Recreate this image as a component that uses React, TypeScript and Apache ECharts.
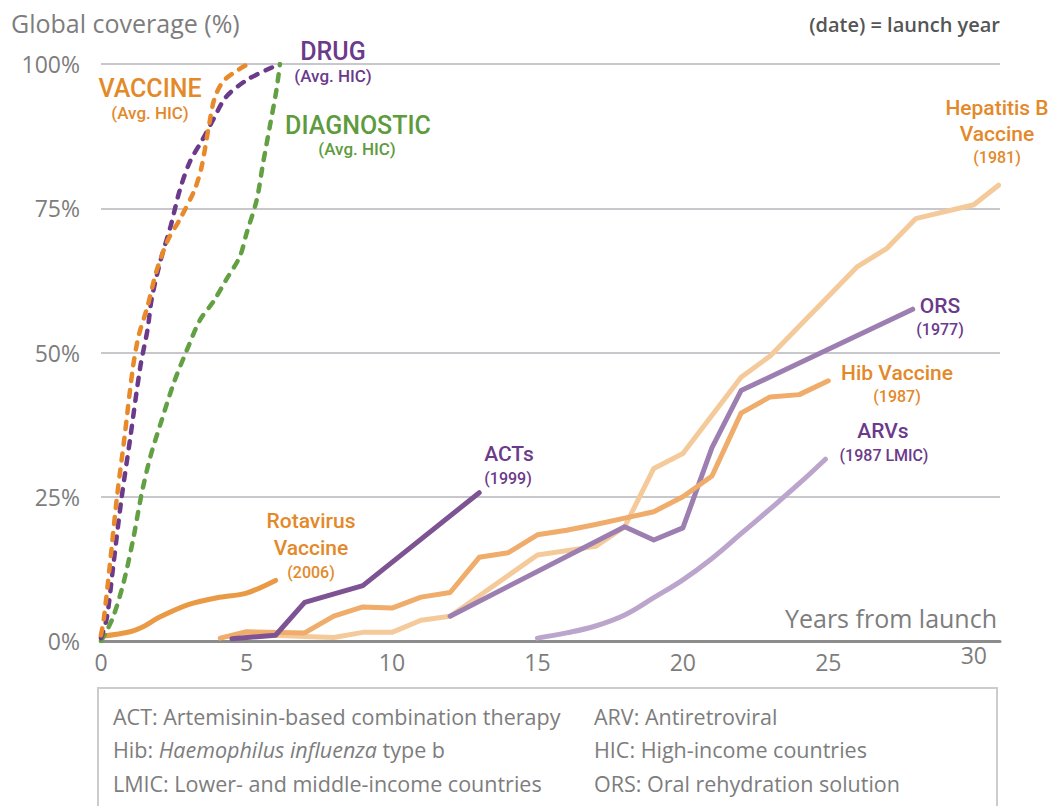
import React, { useEffect, useRef } from "react";
import * as echarts from "echarts";

// ---- Data (x = years from launch, y = global coverage %) ----
const xTicks = [0, 5, 10, 15, 20, 25, 30];
const yTicks = [0, 25, 50, 75, 100];

const vaccineAvgHIC: [number, number][] = [
  [0, 1], [0.1, 4], [0.3, 13], [0.55, 25], [0.8, 35], [1.1, 47.5], [1.3, 53], [1.6, 58],
  [1.9, 64], [2.3, 69.5], [2.7, 73], [3.2, 78], [3.45, 82], [3.7, 89], [3.9, 94],
  [4.2, 97], [4.66, 98.8], [5.05, 100],
];
const drugAvgHIC: [number, number][] = [
  [0, 0.5], [0.2, 4], [0.42, 13], [0.7, 24.5], [1.0, 35], [1.35, 47.5], [1.6, 54], [1.75, 59.5],
  [2.05, 66], [2.4, 72], [2.7, 78], [3.05, 83], [3.5, 87], [3.85, 90.3], [4.3, 94.3],
  [5.0, 97.2], [5.7, 99], [6.15, 100],
];
const diagnosticAvgHIC: [number, number][] = [
  [0, 0], [0.15, 1.3], [0.42, 4.2], [0.77, 10], [1.1, 17.5], [1.4, 25.6], [1.7, 32], [2.05, 37.7],
  [2.5, 44.7], [2.95, 50.4], [3.4, 55.6], [3.86, 58.8], [4.3, 62.6], [4.77, 66.6], [5.0, 70.6],
  [5.35, 76.4], [5.57, 82.8], [5.8, 89.1], [6.03, 95.5], [6.15, 100],
];
const rotavirus2006: [number, number][] = [
  [0, 0.8], [1, 1.6], [1.5, 2.6], [2, 4.1], [3, 6.3], [4, 7.5], [5, 8.3], [6, 10.5],
];
const acts1999: [number, number][] = [
  [4.5, 0.4], [6, 1.0], [7, 6.7], [9, 9.6], [13, 25.7],
];
const hib1987: [number, number][] = [
  [4.1, 0.5], [5, 1.6], [7, 1.4], [8, 4.3], [9, 5.9], [10, 5.7], [11, 7.6], [12, 8.4],
  [13, 14.5], [14, 15.3], [15, 18.4], [16, 19.2], [17, 20.2], [18, 21.3], [19, 22.4],
  [20, 25], [21, 28.6], [22, 39.5], [23, 42.3], [24, 42.7], [25, 45.1],
];
const hepB1981: [number, number][] = [
  [5, 1.2], [7, 0.8], [8, 0.6], [9, 1.5], [10, 1.5], [11, 3.6], [12, 4.3], [15, 14.9],
  [17, 16.4], [18, 19.8], [19, 29.9], [20, 32.5], [22, 45.7], [23, 49.4], [26, 64.9],
  [27, 68], [28, 73.2], [30, 75.6], [30.85, 79],
];
const ors1977: [number, number][] = [
  [12, 4.3], [18, 19.8], [19, 17.5], [20, 19.6], [21, 33.5], [22, 43.4], [27.9, 57.5],
];
const arvs1987LMIC: [number, number][] = [
  [15, 0.5], [16, 1.4], [17, 2.6], [18, 4.5], [19, 7.5], [20, 10.6], [21, 14.3],
  [22, 18.6], [23, 22.9], [24, 27.3], [24.9, 31.5],
];

const FONT = "Roboto, 'DejaVu Sans', sans-serif";
const GFONT = "'Open Sans', Roboto, sans-serif";
const GREY = "#7d7d7d";
const ORANGE_T = "#E3892A";
const PURPLE_T = "#6B3A8A";
const GREEN_T = "#5E9B3E";

function txt(text: string, x: number, y: number, fill: string, size: number, align = "center", weight: any = 500, family = FONT) {
  return {
    type: "text",
    x,
    y,
    silent: true,
    style: {
      text,
      fill,
      fontSize: size,
      fontFamily: family,
      fontWeight: weight,
      align,
      verticalAlign: "middle",
      textAlign: align,
      textVerticalAlign: "middle",
    },
  };
}

function lineSeries(name: string, data: [number, number][], color: string, width: number, opts: any = {}) {
  return {
    type: "line",
    name,
    data,
    showSymbol: false,
    symbol: "none",
    smooth: opts.smooth ?? false,
    z: opts.z ?? 2,
    lineStyle: {
      color,
      width,
      type: opts.dash ?? "solid",
      cap: "round",
      join: "round",
    },
  };
}

export default function App() {
  const ref = useRef<HTMLDivElement>(null);
  useEffect(() => {
    if (!ref.current) return;
    const chart = echarts.init(ref.current, undefined, { renderer: "svg" });
    const FS = 21.5;
    const footerStyle = { fill: GREY, fontSize: FS, fontFamily: GFONT };
    chart.setOption({
      animation: false,
      backgroundColor: "#ffffff",
      grid: { left: 101, right: 52, top: 64, bottom: 165, containLabel: false },
      xAxis: {
        type: "value",
        min: 0,
        max: 30.9,
        interval: 5,
        axisLine: { show: true, onZero: false, lineStyle: { color: "#8c8c8c", width: 3 } },
        axisTick: { show: false },
        splitLine: { show: false },
        axisLabel: {
          color: GREY,
          fontSize: 23,
          fontFamily: GFONT,
          margin: 9,
          showMaxLabel: true,
          formatter: (v: number) => (v === 30 ? "{r|30}" : xTicks.includes(v) ? String(v) : ""),
          rich: {
            r: { color: GREY, fontSize: 23, fontFamily: GFONT, padding: [-7, 0, 0, 0] },
          },
        },
      },
      yAxis: {
        type: "value",
        min: 0,
        max: 100,
        interval: 25,
        axisLine: { show: false },
        axisTick: { show: false },
        splitLine: { show: true, lineStyle: { color: "#c8c8cc", width: 2 } },
        axisLabel: {
          color: GREY,
          fontSize: 23,
          fontFamily: GFONT,
          margin: 21,
          formatter: (v: number) => (yTicks.includes(v) ? v + "%" : ""),
        },
      },
      series: [
        lineSeries("Hepatitis B Vaccine (1981)", hepB1981, "#F5CA9B", 5, { z: 2 }),
        lineSeries("ORS (1977)", ors1977, "#9C7FB0", 5, { z: 3 }),
        lineSeries("Hib Vaccine (1987)", hib1987, "#EFAC6A", 5, { z: 4 }),
        lineSeries("ARVs (1987 LMIC)", arvs1987LMIC, "#BBA5CC", 5, { z: 3, smooth: 0.4 }),
        lineSeries("ACTs (1999)", acts1999, "#7D5394", 5, { z: 5 }),
        lineSeries("Rotavirus Vaccine (2006)", rotavirus2006, "#EA9A45", 5, { z: 5, smooth: 0.3 }),
        lineSeries("DIAGNOSTIC (Avg. HIC)", diagnosticAvgHIC, "#63A043", 4.5, { z: 6, smooth: 0.3, dash: [7, 9] }),
        lineSeries("DRUG (Avg. HIC)", drugAvgHIC, "#6C3A8B", 4.5, { z: 7, smooth: 0.3, dash: [7, 9] }),
        lineSeries("VACCINE (Avg. HIC)", vaccineAvgHIC, "#E8892A", 4.5, { z: 8, smooth: 0.3, dash: [7, 9] }),
      ],
      graphic: [
        txt("Global coverage (%)", 11, 23, GREY, 25, "left", 500, GFONT),
        txt("(date) = launch year", 1000, 24, "#555555", 20, "right", 600, GFONT),
        txt("Years from launch", 997, 618, GREY, 25, "right", 400, GFONT),

        txt("VACCINE", 150, 88, ORANGE_T, 25),
        txt("(Avg. HIC)", 150, 113, ORANGE_T, 17),
        txt("DRUG", 333, 51, PURPLE_T, 25),
        txt("(Avg. HIC)", 333, 76, PURPLE_T, 17),
        txt("DIAGNOSTIC", 358, 125, GREEN_T, 25),
        txt("(Avg. HIC)", 357, 149, GREEN_T, 17),

        txt("Hepatitis B", 997, 108, ORANGE_T, 21),
        txt("Vaccine", 997, 134, ORANGE_T, 21),
        txt("(1981)", 997, 157, ORANGE_T, 16),
        txt("ORS", 940, 306, PURPLE_T, 21),
        txt("(1977)", 940, 329, PURPLE_T, 16),
        txt("Hib Vaccine", 897, 373, ORANGE_T, 21),
        txt("(1987)", 897, 396, ORANGE_T, 16),
        txt("ARVs", 883, 431, PURPLE_T, 21),
        txt("(1987 LMIC)", 884, 455, PURPLE_T, 16),
        txt("ACTs", 509, 454, PURPLE_T, 21),
        txt("(1999)", 508, 478, PURPLE_T, 16),
        txt("Rotavirus", 311, 521, ORANGE_T, 21),
        txt("Vaccine", 311, 548, ORANGE_T, 21),
        txt("(2006)", 311, 572, ORANGE_T, 16),

        {
          type: "rect",
          silent: true,
          shape: { x: 98, y: 688, width: 899, height: 140 },
          style: { fill: "none", stroke: "#cccccc", lineWidth: 2 },
        },
        txt("ACT: Artemisinin-based combination therapy", 113, 716, GREY, FS, "left", 400, GFONT),
        txt("ARV: Antiretroviral", 594, 716, GREY, FS, "left", 400, GFONT),
        {
          type: "text",
          x: 113,
          y: 749,
          silent: true,
          style: {
            text: "{n|Hib: }{i|Haemophilus influenza}{n| type b}",
            align: "left",
            verticalAlign: "middle",
            textAlign: "left",
            textVerticalAlign: "middle",
            rich: {
              n: { ...footerStyle },
              i: { ...footerStyle, fontStyle: "italic" },
            },
          },
        },
        txt("HIC: High-income countries", 594, 749, GREY, FS, "left", 400, GFONT),
        txt("LMIC: Lower- and middle-income countries", 113, 783, GREY, FS, "left", 400, GFONT),
        txt("ORS: Oral rehydration solution", 594, 783, GREY, FS, "left", 400, GFONT),
      ],
    });
    return () => chart.dispose();
  }, []);
  return (
    <div
      ref={ref}
      style={{ position: "fixed", left: 0, top: 0, width: 1052, height: 806, background: "#fff" }}
    />
  );
}
